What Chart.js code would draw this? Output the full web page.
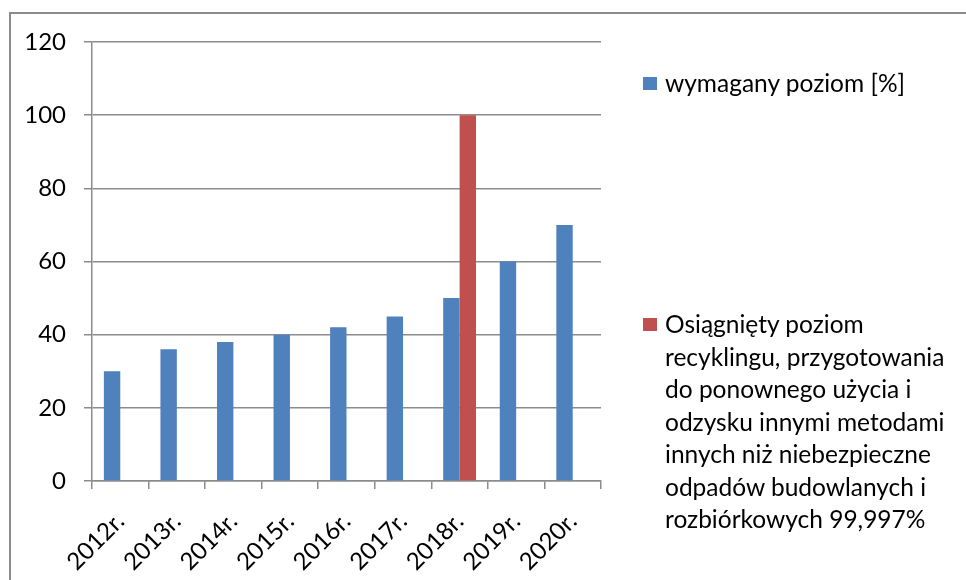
<!DOCTYPE html>
<html lang="pl">
<head>
<meta charset="utf-8">
<script src="https://cdn.jsdelivr.net/npm/chart.js@4.4.0/dist/chart.umd.min.js"></script>
<style>
  body { margin: 0; background: #fff; }
  #wrap { position: relative; width: 966px; height: 580px; overflow: hidden; font-family: Lato, sans-serif; }
  #frame { position: absolute; left: 9px; top: 12px; width: 980px; height: 600px; border-top: 2px solid #8c8c8c; border-left: 2px solid #8c8c8c; }
  #chart-box { position: absolute; left: 0; top: 0; width: 966px; height: 580px; }
  .leg { position: absolute; left: 665px; font-size: 24.5px; line-height: 32.5px; color: #000; white-space: nowrap; }
  .leg i { position: absolute; left: -22px; top: 10px; width: 14px; height: 13px; }
</style>
</head>
<body>
<div id="wrap">
  <div id="frame"></div>
  <div id="chart-box"><canvas id="chart"></canvas></div>
  <div id="legend"></div>
</div>
<script>
const lata = ['2012r.', '2013r.', '2014r.', '2015r.', '2016r.', '2017r.', '2018r.', '2019r.', '2020r.'];
const wymagany = [30, 36, 38, 40, 42, 45, 50, 60, 70];
const osiagniety = [null, null, null, null, null, null, 99.997, null, null];
const yTicks = [0, 20, 40, 60, 80, 100, 120];

const nazwaWymagany = 'wymagany poziom [%]';
const nazwaOsiagniety = 'Osiągnięty poziom recyklingu, przygotowania do ponownego użycia i odzysku innymi metodami innych niż niebezpieczne odpadów budowlanych i rozbiórkowych 99,997%';
const liniiOsiagniety = ['Osiągnięty poziom', 'recyklingu, przygotowania', 'do ponownego użycia i', 'odzysku innymi metodami', 'innych niż niebezpieczne', 'odpadów budowlanych i', 'rozbiórkowych 99,997%'];

const gridColor = '#8c8c8c';

const chart = new Chart(document.getElementById('chart'), {
  type: 'bar',
  data: {
    labels: lata,
    datasets: [
      { label: nazwaWymagany, data: wymagany, backgroundColor: '#4F81BD', barPercentage: 1, categoryPercentage: 0.58 },
      { label: nazwaOsiagniety, data: osiagniety, backgroundColor: '#C0504D', barPercentage: 1, categoryPercentage: 0.58 }
    ]
  },
  options: {
    responsive: true,
    maintainAspectRatio: false,
    animation: false,
    layout: { padding: { left: 0, top: 42, right: 365, bottom: 0 } },
    plugins: { legend: { display: false }, tooltip: { enabled: false } },
    scales: {
      x: {
        grid: { drawOnChartArea: false, drawTicks: true, tickLength: 8, color: gridColor, lineWidth: 1.5 },
        border: { color: gridColor, width: 1.5 },
        ticks: { color: '#000', font: { family: 'Lato', size: 24 }, minRotation: 45, maxRotation: 45, padding: 18 },
        afterFit: s => { s.height = 99; }
      },
      y: {
        min: 0, max: 120,
        afterBuildTicks: s => { s.ticks = yTicks.map(v => ({ value: v })); },
        grid: { color: gridColor, lineWidth: 1.5, tickLength: 8 },
        border: { color: gridColor, width: 1.5 },
        ticks: { color: '#000', font: { family: 'Lato', size: 24 }, padding: 18 },
        afterFit: s => { s.width = 92; }
      }
    }
  }
});

// legenda po prawej
const legend = document.getElementById('legend');
const items = [
  { color: chart.data.datasets[0].backgroundColor, lines: [nazwaWymagany], top: 67 },
  { color: chart.data.datasets[1].backgroundColor, lines: liniiOsiagniety, top: 308 }
];
items.forEach(it => {
  const d = document.createElement('div');
  d.className = 'leg';
  d.style.top = it.top + 'px';
  const sq = document.createElement('i');
  sq.style.background = it.color;
  d.appendChild(sq);
  it.lines.forEach((l, k) => {
    if (k) d.appendChild(document.createElement('br'));
    d.appendChild(document.createTextNode(l));
  });
  legend.appendChild(d);
});
</script>
</body>
</html>
